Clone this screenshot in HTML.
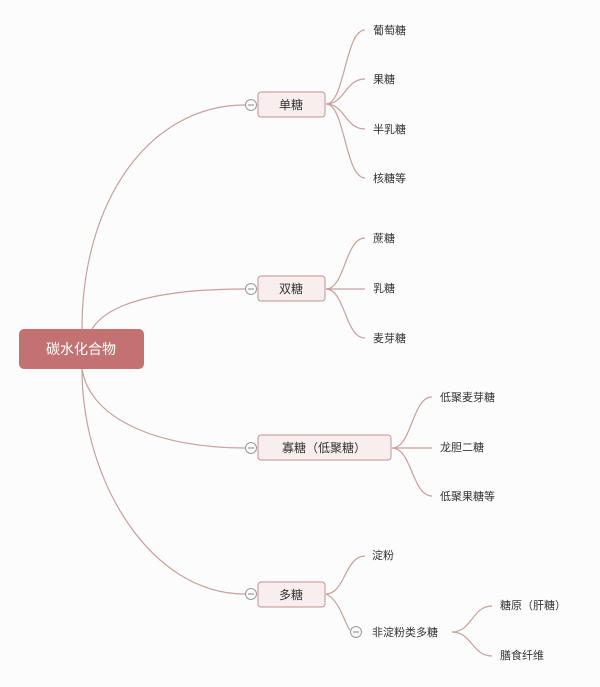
<!DOCTYPE html>
<html><head><meta charset="utf-8"><style>
body{margin:0;background:#fcfcfc;}
svg{display:block;font-family:"Liberation Sans","Noto Sans CJK SC",sans-serif;}
.l{fill:#333;font-size:11px;}
.b{fill:#f8eeee;stroke:#c29290;stroke-width:1;}
.c{fill:none;stroke:#c9a09c;stroke-width:1.2;}
.o{fill:#fafafa;stroke:#999;stroke-width:1;}
</style></head><body>
<svg width="600" height="687" viewBox="0 0 600 687">
<g class="c">
<path d="M82 329 C82 200 150 105 245 105"/>
<path d="M92 329 C110 300 170 289 245 289"/>
<path d="M82 369 C90 420 160 448 245 448"/>
<path d="M82 369 C82 480 150 594 245 594"/>
<path d="M326 104 C345 104 345 30 365 30"/><path d="M326 104 C345 104 345 79 365 79"/><path d="M326 104 C345 104 345 129 365 129"/><path d="M326 104 C345 104 345 178 365 178"/>
<path d="M326 289 C345 289 345 238 365 238"/><path d="M326 289 L365 289"/><path d="M326 289 C345 289 345 338 365 338"/>
<path d="M392 448 C412 448 412 397 432 397"/><path d="M392 448 L432 448"/><path d="M392 448 C412 448 412 496 432 496"/>
<path d="M326 594 C345 594 345 556 365 556"/><path d="M326 594 C340 600 345 625 350 630"/>
<path d="M452 632 C472 632 472 606 492 606"/><path d="M452 632 C472 632 472 656 492 656"/>
</g>
<rect x="19" y="329" width="125" height="40" rx="5" fill="#c27371"/>
<text x="81" y="354" text-anchor="middle" fill="#fff" font-size="14">碳水化合物</text>
<rect class="b" x="258" y="92" width="67" height="25" rx="3"/><text x="291" y="109" text-anchor="middle" font-size="12" fill="#333">单糖</text>
<rect class="b" x="258" y="276" width="67" height="25" rx="3"/><text x="291" y="293" text-anchor="middle" font-size="12" fill="#333">双糖</text>
<rect class="b" x="258" y="435" width="133" height="25" rx="3"/><text x="324" y="452" text-anchor="middle" font-size="12" fill="#333">寡糖（低聚糖）</text>
<rect class="b" x="258" y="582" width="67" height="25" rx="3"/><text x="291" y="599" text-anchor="middle" font-size="12" fill="#333">多糖</text>
<g class="o"><circle cx="251" cy="105" r="5.5"/><circle cx="251" cy="289" r="5.5"/><circle cx="251" cy="448" r="5.5"/><circle cx="251" cy="594" r="5.5"/><circle cx="356" cy="632" r="5.5"/></g>
<g stroke="#888"><line x1="248" y1="105" x2="254" y2="105"/><line x1="248" y1="289" x2="254" y2="289"/><line x1="248" y1="448" x2="254" y2="448"/><line x1="248" y1="594" x2="254" y2="594"/><line x1="353" y1="632" x2="359" y2="632"/></g>
<g class="l">
<text x="373" y="34">葡萄糖</text><text x="373" y="83">果糖</text><text x="373" y="133">半乳糖</text><text x="373" y="182">核糖等</text>
<text x="373" y="242">蔗糖</text><text x="373" y="292">乳糖</text><text x="373" y="342">麦芽糖</text>
<text x="440" y="401">低聚麦芽糖</text><text x="440" y="451">龙胆二糖</text><text x="440" y="500">低聚果糖等</text>
<text x="372" y="559">淀粉</text><text x="372" y="636">非淀粉类多糖</text>
<text x="500" y="609">糖原（肝糖）</text><text x="500" y="659">膳食纤维</text>
</g>
</svg>
</body></html>
